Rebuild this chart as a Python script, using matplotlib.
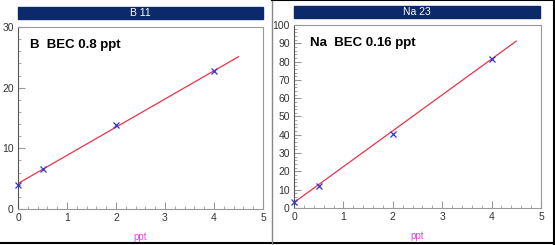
import matplotlib
import numpy as np

matplotlib.use("Agg")
import matplotlib.pyplot as plt  # noqa: E402
from matplotlib.ticker import AutoMinorLocator, MultipleLocator  # noqa: E402

plt.rcParams["font.family"] = ["Liberation Sans", "DejaVu Sans"]

# calibration data
conc = [0, 0.5, 2, 4]
b_counts = [3.9, 6.6, 13.8, 22.8]
na_counts = [3.2, 12.0, 40.5, 81.2]
fit_x = [0, 4.5]
b_fit = [4.2, 25.1]
na_fit = [3.0, 91.2]

panels = [
    dict(title="B 11", label="B  BEC 0.8 ppt", y=b_counts, fit=b_fit, ymax=30, ystep=10,
         rect=[18 / 555, 36 / 245, 245 / 555, 182 / 245], bar=(18, 7, 245, 12),
         txt=(30, 45)),
    dict(title="Na 23", label="Na  BEC 0.16 ppt", y=na_counts, fit=na_fit, ymax=100, ystep=10,
         rect=[294 / 555, 37 / 245, 247 / 555, 183 / 245], bar=(294, 6, 246, 12),
         txt=(310, 43)),
]

W, H = 555, 245
fig = plt.figure(figsize=(W / 100, H / 100), dpi=100)

for p in panels:
    ax = fig.add_axes(p["rect"])
    ax.plot(fit_x, p["fit"], color="#e8334a", lw=0.9, zorder=2)
    ax.plot(conc, p["y"], ls="none", marker="x", color="#3333cc", ms=5, mew=0.9,
            zorder=3, clip_on=False)
    ax.set_xlim(0, 5)
    ax.set_ylim(0, p["ymax"])
    ax.xaxis.set_major_locator(MultipleLocator(1))
    ax.xaxis.set_minor_locator(AutoMinorLocator(5))
    ax.yaxis.set_major_locator(MultipleLocator(p["ystep"]))
    ax.yaxis.set_minor_locator(AutoMinorLocator(5))
    ax.tick_params(which="both", direction="in", colors="#999999", labelcolor="#333333",
                   labelsize=7.5, pad=3)
    ax.tick_params(which="major", length=5, width=0.8)
    ax.tick_params(which="minor", length=2.5, width=0.6)
    for side in ["top", "right", "bottom"]:
        ax.spines[side].set_color("#999999")
    ax.spines["left"].set_color("#555555")
    ax.set_xlabel("ppt", color="#ee44ee", fontsize=7, labelpad=6)
    x0, y0, bw, bh = p["bar"]
    fig.patches.append(plt.Rectangle((x0 / W, 1 - (y0 + bh) / H), bw / W, bh / H,
                                     transform=fig.transFigure, color="#0c2a6b"))
    fig.text((x0 + bw / 2) / W, 1 - (y0 + bh / 2) / H, p["title"], color="white",
             fontsize=7.5, ha="center", va="center")
    fig.text(p["txt"][0] / W, 1 - p["txt"][1] / H, p["label"], fontsize=9.5,
             fontweight="bold", ha="left", va="center")

# outer frame lines
lines = [
    ((0, 555), (243, 243), 1.5, "black"),
    ((272, 272), (0, 245), 1.0, "#888888"),
    ((272, 555), (0.5, 0.5), 1.5, "black"),
    ((553.5, 553.5), (0, 245), 1.5, "black"),
]
for xs, ys, lw, c in lines:
    fig.add_artist(plt.Line2D([x / W for x in xs], [1 - y / H for y in ys], color=c,
                              lw=lw, transform=fig.transFigure))

fig.savefig("out.png", dpi=100)
